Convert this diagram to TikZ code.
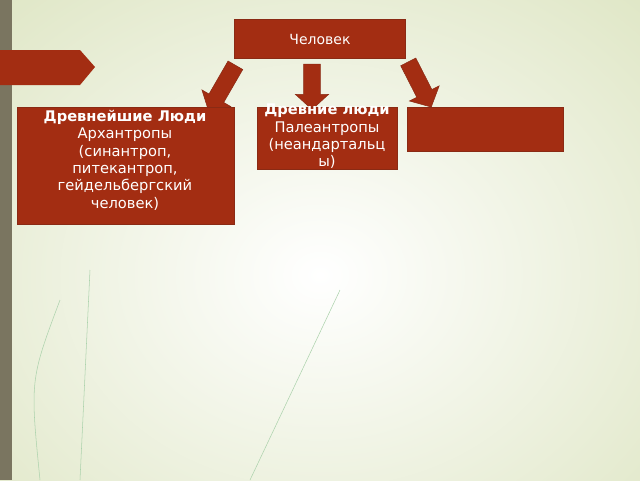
\documentclass[tikz,border=0pt]{standalone}
\usepackage{fontspec}
\setmainfont{DejaVu Sans}
\usetikzlibrary{shapes.arrows}
\definecolor{brick}{HTML}{A32D12}
\definecolor{brickline}{HTML}{8A2A14}
\definecolor{sage}{HTML}{DCE4C0}
\definecolor{strip}{HTML}{7A7560}
\tikzset{
  box/.style={draw=brickline, fill=brick, line width=0.6pt},
  boxtext/.style={text=white, align=center, font=\fontsize{11pt}{13pt}\selectfont, inner sep=0pt, anchor=north},
  down/.style={single arrow, draw=brickline, fill=brick, minimum width=25pt, single arrow head extend=6pt, single arrow tip angle=95, inner xsep=0pt, inner ysep=6pt, minimum height=#1}
}
\begin{document}
\begin{tikzpicture}[x=0.75pt,y=-0.75pt]
\useasboundingbox (0,0) rectangle (640,480);
\shade[inner color=white, outer color=sage] (-200,-150) rectangle (840,700);
\fill[strip] (0,0) rectangle (12,480);
\draw[green!30!gray!50, thin] (90,270) -- (80,480);
\draw[green!30!gray!50, thin] (340,290) -- (250,480);
\draw[green!30!gray!50, thin] (60,300) .. controls (30,380) .. (40,480);

% left marker
\fill[brick] (0,50) -- (80,50) -- (95,67) -- (80,85) -- (0,85) -- cycle;

% top box
\draw[box] (234,19) rectangle (405,58);
\node[text=white, font=\fontsize{10.5pt}{12pt}\selectfont] (human) at (320,39) {Человек};

% arrows
\node[down=40pt, rotate=-120] (arrowL) at (224,85) {};
\node[down=34pt, rotate=-90] (arrowM) at (312,83) {};
\node[down=38pt, rotate=-63] (arrowR) at (418,81) {};

% boxes
\draw[box] (17,107) rectangle (234,224);
\node[boxtext] (oldest) at (125,110) {\textbf{Древнейшие Люди}\\Архантропы\\(синантроп,\\питекантроп,\\гейдельбергский\\человек)};

\draw[box] (257,107) rectangle (397,169);
\node[boxtext] (ancient) at (327,104) {\textbf{Древние люди}\\Палеантропы\\(неандартальц\\ы)};

\draw[box] (407,107) rectangle (563,151);
\end{tikzpicture}
\end{document}
